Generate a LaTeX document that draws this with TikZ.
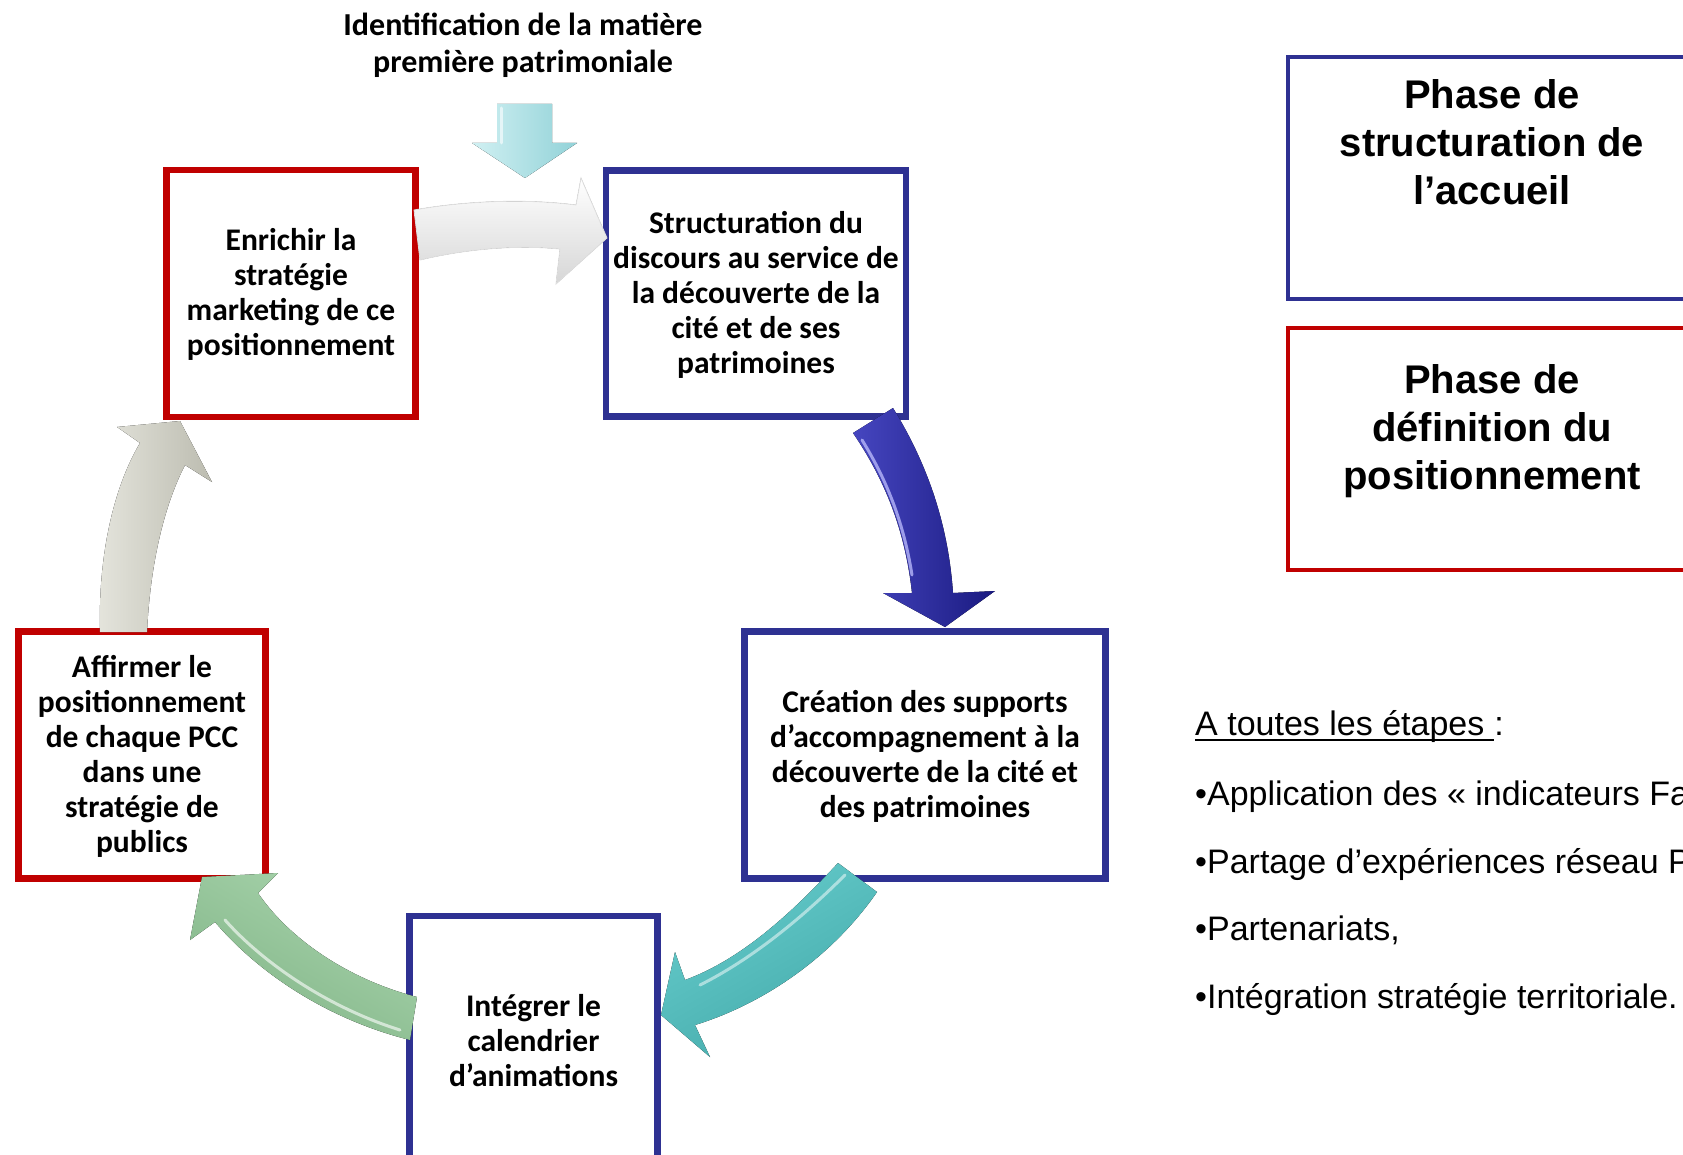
\documentclass[tikz,border=0pt]{standalone}
\usepackage{fontspec}
\setmainfont{Carlito}
\newfontfamily\arialfont{Liberation Sans}
\definecolor{boxred}{HTML}{C00000}
\definecolor{boxblue}{HTML}{2E3192}
\definecolor{blueL}{HTML}{4646C0}
\definecolor{blueD}{HTML}{1A1A80}
\definecolor{tealL}{HTML}{66CCCC}
\definecolor{tealD}{HTML}{44AAAA}
\definecolor{greenL}{HTML}{A8D4AC}
\definecolor{greenD}{HTML}{82B588}
\definecolor{greyL}{HTML}{E4E4DC}
\definecolor{greyD}{HTML}{BCBCB0}
\definecolor{cyanL}{HTML}{D0F0F2}
\definecolor{cyanD}{HTML}{92D2D8}
\newcommand{\mlines}[1]{\raisebox{-3pt}[\height][\depth]{\begin{tabular}{@{}c@{}}#1\end{tabular}}}
\newcommand{\mlinestop}[1]{\begin{tabular}[t]{@{}c@{}}#1\end{tabular}}
\newcommand{\boxfont}{\bfseries\fontsize{31.5}{35}\selectfont}
\newcommand{\titlefont}{\bfseries\fontsize{32}{37}\selectfont}
\newcommand{\phasefont}{\arialfont\bfseries\fontsize{40}{48}\selectfont}
\newcommand{\listfont}{\arialfont\fontsize{34}{40}\selectfont}
\tikzset{
  cyclebox/.style={draw, line width=6.5pt, inner sep=0pt, font=\boxfont},
  redbox/.style={cyclebox, draw=boxred},
  bluebox/.style={cyclebox, draw=boxblue},
  phasebox/.style={draw, line width=4.5pt, inner sep=0pt, minimum width=412pt, minimum height=242pt},
  phasetext/.style={anchor=base, inner sep=0pt, font=\phasefont},
  listtext/.style={anchor=base west, inner sep=0pt, font=\listfont},
  hl/.style={line width=3pt, line cap=round, opacity=0.75},
}
\begin{document}
\begin{tikzpicture}[x=1pt, y=-1pt]
\useasboundingbox (0,0) rectangle (1683,1155);
\fill[white] (0,0) rectangle (1683,1155);
\clip (0,0) rectangle (1683,1155);

% title
\node[anchor=base, inner sep=0pt, font=\titlefont] (title) at (523,35.5)
  {\mlinestop{Identification de la matière\\première patrimoniale}};

% down arrow
\fill[left color=cyanL, right color=cyanD]
  (497,104) -- (552,104) -- (552,143) -- (577,143) -- (525,178) -- (472,143) -- (497,143) -- cycle;
\draw[white, hl, opacity=0.6] (501,108) -- (501,143);

% cycle boxes
\node[redbox, minimum width=249pt, minimum height=247pt] (enrichir) at (291,293.5)
  {\mlines{Enrichir la\\stratégie\\marketing de ce\\positionnement}};
\node[bluebox, minimum width=300pt, minimum height=246pt] (structuration) at (756,293.5)
  {\mlines{Structuration du\\discours au service de\\la découverte de la\\cité et de ses\\patrimoines}};
\node[bluebox, minimum width=361pt, minimum height=247pt] (creation) at (925,755)
  {\mlines{Création des supports\\d’accompagnement à la\\découverte de la cité et\\des patrimoines}};
\node[bluebox, minimum width=248pt, minimum height=250pt] (integrer) at (533.5,1041)
  {\mlines{Intégrer le\\calendrier\\d’animations}};
\node[redbox, minimum width=247pt, minimum height=247pt] (affirmer) at (142,755)
  {\mlines{Affirmer le\\positionnement\\de chaque PCC\\dans une\\stratégie de\\publics}};

% arrow: enrichir -> structuration
\fill[top color=white, bottom color=gray!32]
  (414,210) .. controls (470,200) and (530,199) .. (576,205) -- (581,178) -- (607,238)
  -- (556,284) -- (560,249) .. controls (520,245) and (470,248) .. (420,260) -- cycle;
\draw[gray!25, line width=0.8pt]
  (414,210) .. controls (470,200) and (530,199) .. (576,205) -- (581,178) -- (607,238)
  -- (556,284) -- (560,249) .. controls (520,245) and (470,248) .. (420,260) -- cycle;

% arrow: structuration -> creation
\fill[left color=blueL, right color=blueD]
  (853,433) -- (893,408) .. controls (925,460) and (948,520) .. (953,593) -- (995,591)
  -- (945,627) -- (883,593) -- (912,593) .. controls (905,530) and (885,480) .. (853,433) -- cycle;
\draw[hl, color=blue!25!white] (862,440) .. controls (888,482) and (904,525) .. (912,575);

% arrow: creation -> integrer
\fill[top color=tealL, bottom color=tealD, shading angle=30]
  (838,863) .. controls (790,915) and (740,960) .. (685,980) -- (675,952) -- (661,1015)
  -- (710,1057) -- (695,1025) .. controls (760,1005) and (830,960) .. (877,892) -- cycle;
\draw[hl, color=white, opacity=0.5] (845,875) .. controls (800,920) and (750,960) .. (700,985);

% arrow: integrer -> affirmer
\fill[top color=greenL, bottom color=greenD, shading angle=-30]
  (417,997) .. controls (350,980) and (290,940) .. (258,893) -- (278,873) -- (202,877)
  -- (190,940) -- (215,922) .. controls (260,975) and (330,1020) .. (410,1040) -- cycle;
\draw[hl, color=white, opacity=0.6] (225,920) .. controls (265,965) and (330,1008) .. (400,1030);

% arrow: affirmer -> enrichir
\fill[left color=greyL, right color=greyD]
  (100,632) .. controls (98,560) and (112,490) .. (140,443) -- (117,427) -- (180,421)
  -- (212,482) -- (185,465) .. controls (162,510) and (150,570) .. (147,632) -- cycle;

% phase boxes
\node[phasebox, draw=boxblue] (phase1) at (1494,178) {};
\node[phasetext] (phase1t) at (1492,109) {\mlinestop{Phase de\\structuration de\\l’accueil}};
\node[phasebox, draw=boxred] (phase2) at (1494,449) {};
\node[phasetext] (phase2t) at (1492,393) {\mlinestop{Phase de\\définition du\\positionnement}};

% list
\node[listtext] (head) at (1195,735) {A toutes les étapes\ \mbox{}};
\node[listtext] (headc) at (head.base east) {:};
\draw[line width=2pt] ([yshift=-5pt]head.base west) -- ([yshift=-5pt]head.base east);
\node[listtext] (l1) at (1195,805) {•Application des «~indicateurs Fa};
\node[listtext] (l2) at (1195,873) {•Partage d’expériences réseau P};
\node[listtext] (l3) at (1195,940) {•Partenariats,};
\node[listtext] (l4) at (1195,1008) {•Intégration stratégie territoriale.};
\end{tikzpicture}
\end{document}
